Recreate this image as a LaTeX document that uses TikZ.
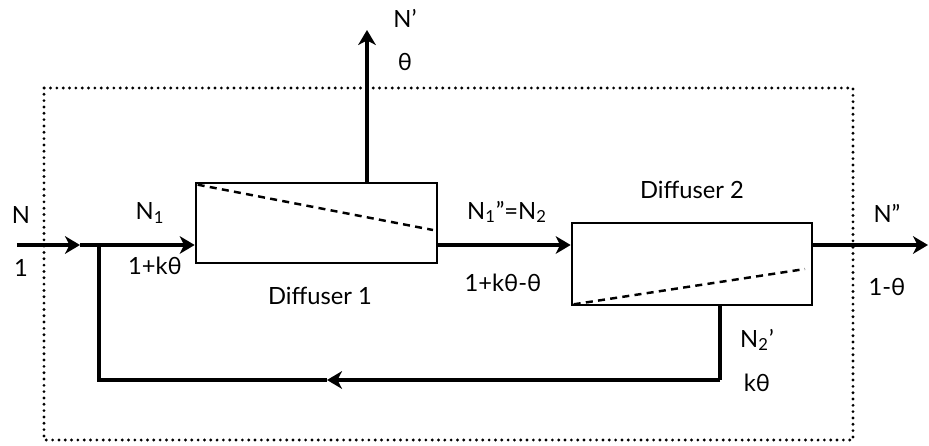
\documentclass[tikz,border=0pt]{standalone}
\usepackage{fontspec}
\setmainfont{Lato}
\usetikzlibrary{arrows.meta, calc}
\tikzset{
  unit/.style={draw, line width=1.5pt, inner sep=0pt},
  flow/.style={line width=2.2pt},
  arr/.style={flow, -{Stealth[length=8.5pt,width=10pt,inset=2.5pt]}},
  split/.style={line width=1.4pt, dash pattern=on 4pt off 3pt},
  lbl/.style={font=\fontsize{13.5}{16}\selectfont, inner sep=1pt},
}

\begin{document}
\begin{tikzpicture}

% ── Y levels ──────────────────────────────────────────────────────────────────
\def\ymain{-4.9}
\def\yloop{-7.6}

\useasboundingbox (0,0) rectangle (18.58,-8.92);

% ── System boundary ───────────────────────────────────────────────────────────
\draw[line width=1.8pt, line cap=round, dash pattern=on 0pt off 3.6pt]
  (0.88,-1.76) rectangle (17.06,-8.8);

% ── Units ─────────────────────────────────────────────────────────────────────
\node[unit, minimum width=4.82cm, minimum height=1.6cm]  (dif1) at (6.33,-4.46) {};
\node[unit, minimum width=4.8cm,  minimum height=1.64cm] (dif2) at (13.84,-5.28) {};

\draw[split] ([shift={(0.06,-0.06)}]dif1.north west) -- (8.66,-4.6);
\draw[split] ([shift={(0.06,0.04)}]dif2.south west) -- (16.1,-5.38);

% ── Points on the streams ─────────────────────────────────────────────────────
\coordinate (feed)  at (0.34,\ymain);
\coordinate (feedm) at (1.6,\ymain);
\coordinate (join)  at (1.98,\ymain);
\coordinate (top)   at (7.34,-0.6);
\coordinate (prod)  at (18.56,\ymain);
\coordinate (rcr)   at (14.4,\yloop);
\coordinate (rcm)   at (6.54,\yloop);
\coordinate (rcl)   at (1.98,\yloop);

% ── Streams ───────────────────────────────────────────────────────────────────
\draw[arr] (feed) -- (feedm);
\draw[arr] (feedm) -- (dif1.west |- feed);
\draw[arr] (dif1.north -| top) -- (top);
\draw[arr] (dif1.east |- feed) -- (dif2.west |- feed);
\draw[arr] (dif2.east |- feed) -- (prod);

% recycle loop
\draw[flow] (dif2.south -| rcr) -- (rcr);
\draw[arr] (rcr) -- (rcm);
\draw[flow] (rcm) -- (rcl) -- (join);

% ── Labels ────────────────────────────────────────────────────────────────────
\node[lbl] (lN)    at (0.42,-4.3)   {N};
\node[lbl] (lI)    at (0.42,-5.36)  {1};
\node[lbl] (lN1)   at (3.0,-4.26)   {N\textsubscript{1}};
\node[lbl] (lI1)   at (3.1,-5.32)   {1+kθ};
\node[lbl] (ld1)   at (6.4,-5.92)   {Diffuser 1};
\node[lbl] (lNp)   at (8.1,-0.36)   {N’};
\node[lbl] (lth)   at (8.1,-1.24)   {θ};
\node[lbl] (lN12)  at (10.14,-4.24) {N\textsubscript{1}”=N\textsubscript{2}};
\node[lbl] (lI12)  at (10.06,-5.66) {1+kθ-θ};
\node[lbl] (ld2)   at (13.84,-3.8)  {Diffuser 2};
\node[lbl] (lNpp)  at (17.74,-4.26) {N”};
\node[lbl] (lIout) at (17.74,-5.74) {1-θ};
\node[lbl] (lN2)   at (15.14,-6.8)  {N\textsubscript{2}’};
\node[lbl] (lkth)  at (15.14,-7.66) {kθ};

\end{tikzpicture}
\end{document}
